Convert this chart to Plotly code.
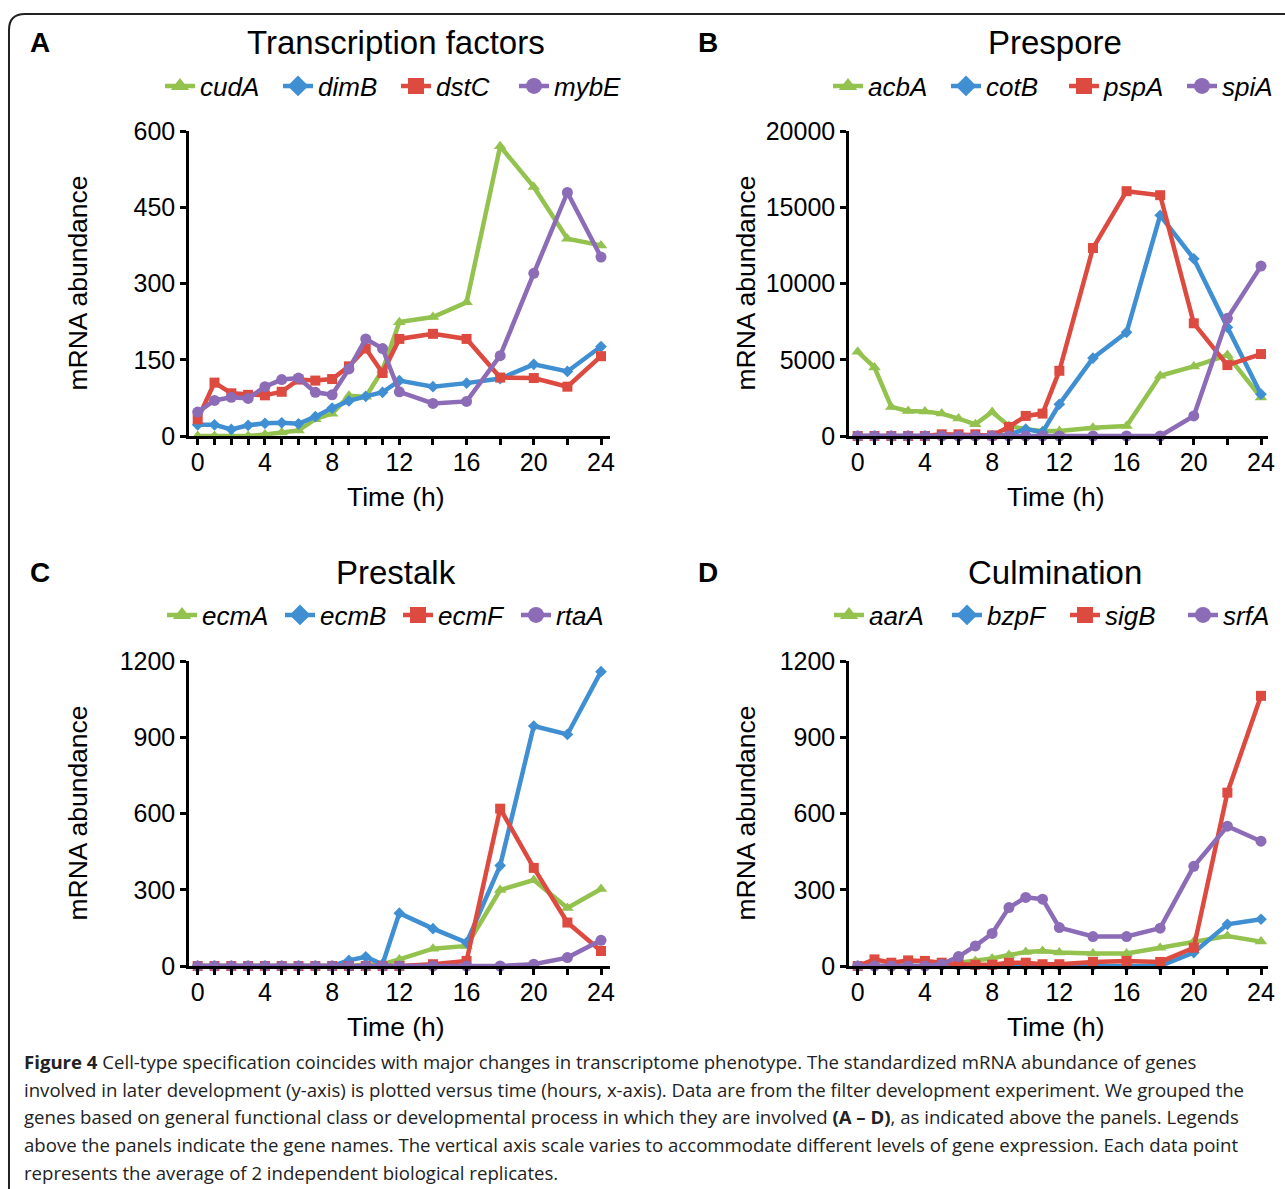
import plotly.graph_objects as go

W, H = 1285, 1189

time_h = [0, 1, 2, 3, 4, 5, 6, 7, 8, 9, 10, 11, 12, 14, 16, 18, 20, 22, 24]

# Panel A: Transcription factors
a_names = ["cudA", "dimB", "dstC", "mybE"]
a_cudA = [0, 0, 0, 0, 3, 7, 11, 33, 44, 79, 77, 130, 224, 234, 263, 570, 490, 388, 375]
a_dimB = [22, 22, 13, 21, 25, 26, 24, 38, 55, 69, 78, 86, 109, 97, 104, 113, 141, 127, 176]
a_dstC = [33, 105, 84, 81, 80, 87, 111, 109, 112, 137, 172, 124, 191, 201, 191, 115, 114, 97, 157]
a_mybE = [47, 70, 76, 74, 97, 111, 114, 86, 81, 132, 191, 172, 87, 64, 68, 158, 320, 479, 352]

# Panel B: Prespore
b_names = ["acbA", "cotB", "pspA", "spiA"]
b_acbA = [5527, 4496, 1908, 1645, 1601, 1469, 1140, 768, 1579, 658, 439, 329, 329, 548, 658, 3947, 4561, 5307, 2522]
b_cotB = [0, 0, 0, 0, 0, 0, 0, 0, 0, 100, 450, 250, 2083, 5110, 6798, 14474, 11623, 7127, 2741]
b_pspA = [0, 0, 0, 0, 0, 110, 110, 110, 40, 592, 1316, 1469, 4276, 12325, 16053, 15790, 7390, 4649, 5373]
b_spiA = [0, 0, 0, 0, 0, 0, 0, 0, 0, 0, 0, 0, 0, 0, 0, 0, 1316, 7720, 11140]

# Panel C: Prestalk
c_names = ["ecmA", "ecmB", "ecmF", "rtaA"]
c_ecmA = [0, 0, 0, 0, 0, 0, 0, 0, 0, 0, 5, 7, 26, 68, 79, 299, 338, 228, 303]
c_ecmB = [0, 0, 0, 0, 0, 0, 0, 0, 0, 22, 36, 7, 208, 147, 92, 395, 944, 911, 1158]
c_ecmF = [0, 0, 0, 0, 0, 0, 0, 0, 0, 0, 0, 0, 0, 7, 20, 619, 386, 171, 59]
c_rtaA = [0, 0, 0, 0, 0, 0, 0, 0, 0, 0, 0, 0, 0, 0, 0, 0, 7, 33, 101]

# Panel D: Culmination
d_names = ["aarA", "bzpF", "sigB", "srfA"]
d_aarA = [0, 0, 0, 0, 0, 0, 13, 20, 30, 43, 55, 59, 53, 49, 49, 72, 96, 118, 96]
d_bzpF = [0, 0, 0, 0, 0, 0, 0, 0, 0, 0, 0, 0, 0, 0, 0, 0, 53, 164, 184]
d_sigB = [0, 26, 13, 22, 20, 13, 7, 5, 5, 13, 13, 7, 7, 16, 20, 16, 72, 682, 1063]
d_srfA = [0, 0, 0, 0, 0, 7, 37, 79, 128, 230, 270, 263, 151, 116, 116, 149, 392, 550, 491]

panel_titles = ["Transcription factors", "Prespore", "Prestalk", "Culmination"]
panel_letters = ["A", "B", "C", "D"]
y_ranges = [[0, 600], [0, 20000], [0, 1200], [0, 1200]]
y_ticks = [[0, 150, 300, 450, 600], [0, 5000, 10000, 15000, 20000],
           [0, 300, 600, 900, 1200], [0, 300, 600, 900, 1200]]
x_ticklabels = [str(t) if t % 4 == 0 else "" for t in time_h]
x_title = "Time (h)"
y_title = "mRNA abundance"

caption_lines = [
    "<b>Figure 4</b> Cell-type specification coincides with major changes in transcriptome phenotype. The standardized mRNA abundance of genes",
    "involved in later development (y-axis) is plotted versus time (hours, x-axis). Data are from the filter development experiment. We grouped the",
    "genes based on general functional class or developmental process in which they are involved <b>(A – D)</b>, as indicated above the panels. Legends",
    "above the panels indicate the gene names. The vertical axis scale varies to accommodate different levels of gene expression. Each data point",
    "represents the average of 2 independent biological replicates.",
]

panels = [
    (a_names, [a_cudA, a_dimB, a_dstC, a_mybE]),
    (b_names, [b_acbA, b_cotB, b_pspA, b_spiA]),
    (c_names, [c_ecmA, c_ecmB, c_ecmF, c_rtaA]),
    (d_names, [d_aarA, d_bzpF, d_sigB, d_srfA]),
]

colors = ["#94c24f", "#3f8fd2", "#dc4a40", "#8c6cb7"]
symbols = ["triangle-up", "diamond", "square", "circle"]
msizes = [11, 9, 10, 11]
legend_msizes = [16, 16, 16, 16]

FONT = "Liberation Sans"


def px_x(p):
    return p / W


def px_y(p):
    return 1 - p / H


# pixel geometry of panels: (x_left, x_right, y_top, y_bottom, x0_px, x24_px)
geom = [
    (189, 610, 131, 436, 197.7, 601.0),
    (849, 1268, 131, 436, 857.7, 1261.0),
    (189, 610, 661, 966, 197.7, 601.0),
    (849, 1268, 661, 966, 857.7, 1261.0),
]
# text positions (pixels)
title_y = [42, 42, 572, 572]
title_x = [396, 1055, 396, 1055]
letter_x = [40, 708, 40, 708]
legend_pos = [(396, 86), (1064, 86), (398, 615), (1065, 615)]
ytitle_x = [77, 745, 77, 745]
xtitle_y = [497, 497, 1027, 1027]

fig = go.Figure()
layout = dict(
    template="none",
    width=W, height=H,
    margin=dict(l=0, r=0, t=0, b=0, pad=0, autoexpand=False),
    paper_bgcolor="white", plot_bgcolor="white",
    font=dict(family=FONT, color="black", size=24),
    showlegend=True,
)

annotations = []
for i, (names, series) in enumerate(panels):
    sfx = "" if i == 0 else str(i + 1)
    legname = "legend" if i == 0 else f"legend{i + 1}"
    for j, (nm, vals) in enumerate(zip(names, series)):
        grp = f"{nm}"
        fig.add_trace(go.Scatter(
            x=time_h, y=vals, name=f"<i>{nm}</i>", mode="lines+markers",
            line=dict(color=colors[j], width=4.5),
            marker=dict(symbol=symbols[j], size=msizes[j], color=colors[j]),
            xaxis=f"x{sfx}", yaxis=f"y{sfx}", legend=legname, legendgroup=grp,
            showlegend=False, cliponaxis=False,
        ))
        # legend entry (larger symbol, like the reference key)
        fig.add_trace(go.Scatter(
            x=[None], y=[None], name=f"<i>{nm}</i>", mode="lines+markers",
            line=dict(color=colors[j], width=4.5),
            marker=dict(symbol=symbols[j], size=legend_msizes[j], color=colors[j]),
            xaxis=f"x{sfx}", yaxis=f"y{sfx}", legend=legname, legendgroup=grp,
            showlegend=True, hoverinfo="skip",
        ))
    xl, xr, yt, yb, x0p, x24p = geom[i]
    pph = (x24p - x0p) / 24.0
    xr0 = -(x0p - xl) / pph
    xr1 = 24 + (xr - x24p) / pph
    layout[f"xaxis{sfx}"] = dict(
        domain=[px_x(xl), px_x(xr)], range=[xr0, xr1], anchor=f"y{sfx}",
        tickmode="array", tickvals=time_h, ticktext=x_ticklabels,
        ticks="outside", ticklen=6, tickwidth=2.5, tickcolor="black",
        showline=True, linewidth=2.5, linecolor="black", showgrid=False, zeroline=False,
        tickfont=dict(size=25, family=FONT, color="black"), ticklabelstandoff=-4,
        automargin=False, fixedrange=True,
    )
    layout[f"yaxis{sfx}"] = dict(
        domain=[px_y(yb), px_y(yt)], range=y_ranges[i], anchor=f"x{sfx}",
        tickmode="array", tickvals=y_ticks[i], ticktext=[str(v) for v in y_ticks[i]],
        ticks="outside", ticklen=6, tickwidth=2.5, tickcolor="black",
        showline=True, linewidth=2.5, linecolor="black", showgrid=False, zeroline=False,
        tickfont=dict(size=25, family=FONT, color="black"),
        automargin=False, fixedrange=True,
    )
    lxp, lyp = legend_pos[i]
    layout[legname] = dict(
        orientation="h", x=px_x(lxp), y=px_y(lyp), xanchor="center", yanchor="middle",
        font=dict(size=26, family=FONT, color="black"), bgcolor="rgba(0,0,0,0)",
        borderwidth=0, itemwidth=30, tracegroupgap=0, entrywidth=73,
    )
    annotations.append(dict(
        text=panel_titles[i], x=px_x(title_x[i]), y=px_y(title_y[i]), xref="paper", yref="paper",
        xanchor="center", yanchor="middle", showarrow=False,
        font=dict(size=33, family=FONT, color="black"),
    ))
    annotations.append(dict(
        text=f"<b>{panel_letters[i]}</b>", x=px_x(letter_x[i]), y=px_y(title_y[i]),
        xref="paper", yref="paper", xanchor="center", yanchor="middle", showarrow=False,
        font=dict(size=28, family=FONT, color="black"),
    ))
    # axis titles
    annotations.append(dict(
        text=y_title, x=px_x(ytitle_x[i]), y=px_y((yt + yb) / 2), xref="paper", yref="paper",
        xanchor="center", yanchor="middle", showarrow=False, textangle=-90,
        font=dict(size=26.5, family=FONT, color="black"),
    ))
    annotations.append(dict(
        text=x_title, x=px_x((x0p + x24p) / 2 - 3), y=px_y(xtitle_y[i]), xref="paper", yref="paper",
        xanchor="center", yanchor="middle", showarrow=False,
        font=dict(size=26.5, family=FONT, color="black"),
    ))

cap_y = [1061, 1089, 1116, 1144, 1172]
for k, line in enumerate(caption_lines):
    annotations.append(dict(
        text=line, x=px_x(22), y=px_y(cap_y[k]), xref="paper", yref="paper",
        xanchor="left", yanchor="middle", showarrow=False, align="left",
        font=dict(size=18.6, family="Open Sans", color="#222222"),
    ))

layout["annotations"] = annotations


# outer rounded frame (left & top edges)
def P(x, y):
    return f"{px_x(x):.5f},{px_y(y):.5f}"


frame_path = f"M {P(9, 1195)} L {P(9, 30)} Q {P(9, 14)} {P(25, 14)} L {P(1290, 14)}"
layout["shapes"] = [dict(type="path", path=frame_path, xref="paper", yref="paper",
                         line=dict(color="#222222", width=2))]

fig.update_layout(**layout)
fig.write_html("out.html", config={"displayModeBar": False})
